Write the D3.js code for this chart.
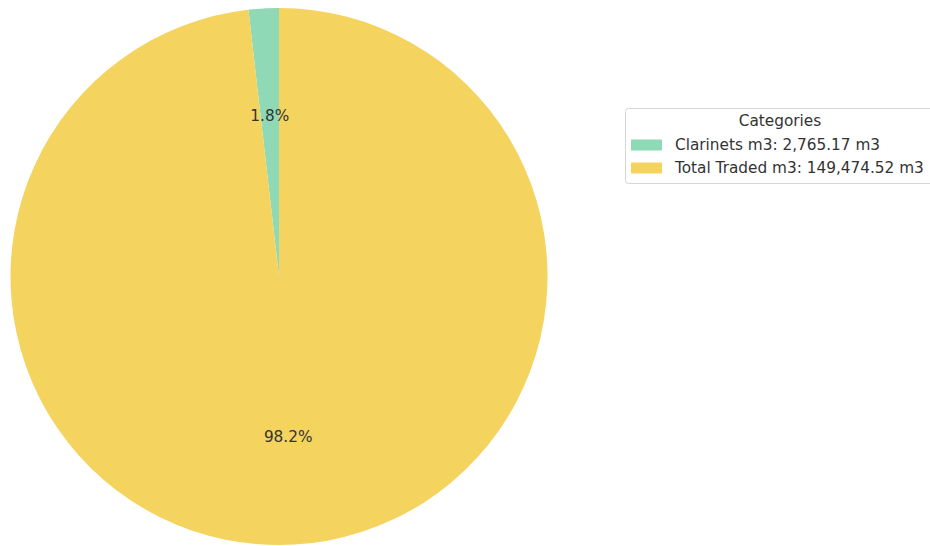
<!DOCTYPE html>
<html><head><meta charset="utf-8">
<script src="https://cdn.jsdelivr.net/npm/d3@7"></script>
<style>html,body{margin:0;padding:0;background:#fff;overflow:hidden}</style>
</head><body>
<svg id="chart" width="930" height="546"></svg>
<script>
const categories = ["Clarinets m3", "Total Traded m3"];
const values = [2765.17, 149474.52];
const colors = ["#8fd9b6", "#f4d35e"];
const legendTitle = "Categories";

const svg = d3.select("#chart");
const font = "DejaVu Sans, sans-serif";
const fs = 15.3;
const cx = 279, cy = 276.5, r = 268.5;
const total = d3.sum(values);

// matplotlib-style: start at 12 o'clock, counterclockwise
const pie = d3.pie().sort(null).value(d => d)
  .startAngle(0).endAngle(-2 * Math.PI);
const arcs = pie(values);
const arc = d3.arc().innerRadius(0).outerRadius(r);
const labelArc = d3.arc().innerRadius(r * 0.6).outerRadius(r * 0.6);

const g = svg.append("g").attr("transform", `translate(${cx},${cy})`);
g.selectAll("path").data(arcs).join("path")
  .attr("d", arc).attr("fill", (d, i) => colors[i]);
g.selectAll("text").data(arcs).join("text")
  .attr("transform", d => `translate(${labelArc.centroid(d)})`)
  .attr("text-anchor", "middle").attr("dominant-baseline", "central")
  .attr("font-family", font).attr("font-size", fs).attr("fill", "#333")
  .text(d => (d.value / total * 100).toFixed(1) + "%");

// legend
const lg = svg.append("g").attr("transform", "translate(625,108)");
lg.append("rect").attr("x", 0.5).attr("y", 0.5).attr("width", 330).attr("height", 75)
  .attr("rx", 3).attr("fill", "#fff").attr("stroke", "#d6d6d6");
lg.append("text").attr("x", 155).attr("y", 13).attr("text-anchor", "middle")
  .attr("dominant-baseline", "central").attr("font-family", font).attr("font-size", fs)
  .attr("fill", "#333").text(legendTitle);
const fmt = d3.format(",.2f");
const rows = lg.selectAll("g.row").data(categories).join("g").attr("class", "row")
  .attr("transform", (d, i) => `translate(0,${37 + i * 23})`);
rows.append("rect").attr("x", 6).attr("y", -5.5).attr("width", 31).attr("height", 11)
  .attr("fill", (d, i) => colors[i]);
rows.append("text").attr("x", 50).attr("y", 0).attr("dominant-baseline", "central")
  .attr("font-family", font).attr("font-size", fs).attr("fill", "#333")
  .text((d, i) => `${d}: ${fmt(values[i])} m3`);
</script>
</body></html>
